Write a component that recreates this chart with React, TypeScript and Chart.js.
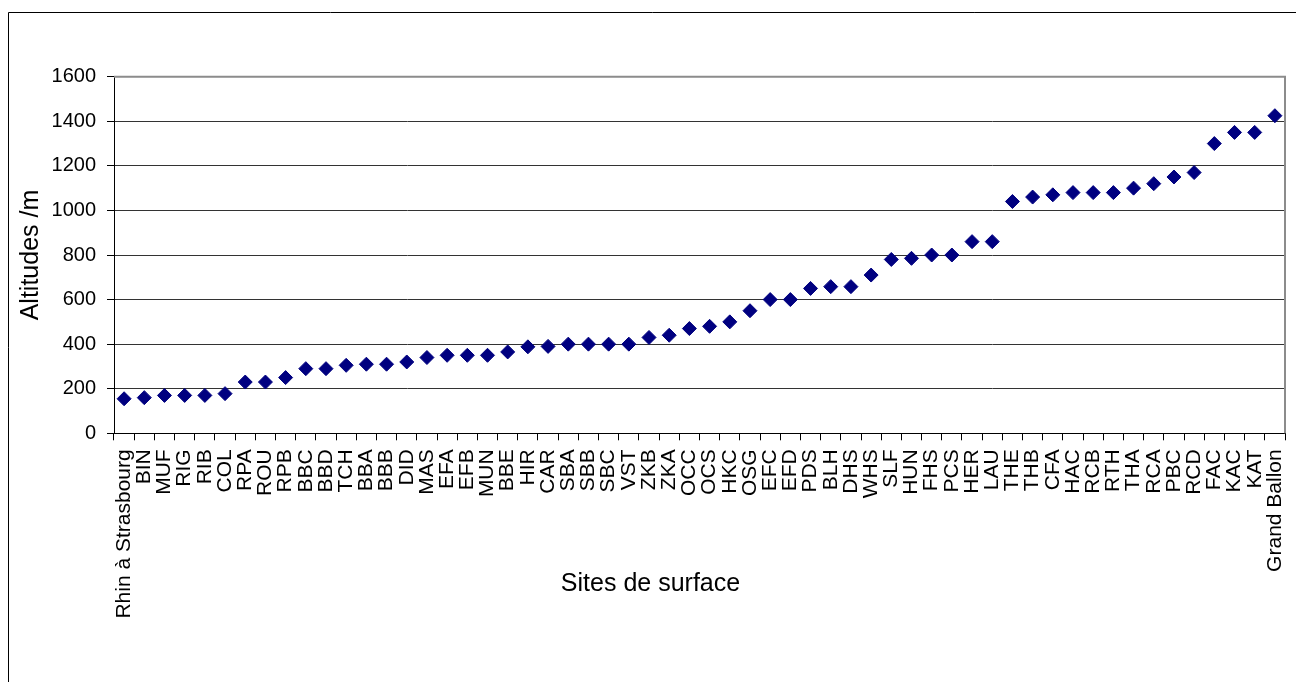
import React, { useEffect, useRef } from 'react';
import { Chart, registerables } from 'chart.js';

Chart.register(...registerables);

const sites: string[] = [
  'Rhin à Strasbourg', 'BIN', 'MUF', 'RIG', 'RIB', 'COL', 'RPA', 'ROU', 'RPB', 'BBC',
  'BBD', 'TCH', 'BBA', 'BBB', 'DID', 'MAS', 'EFA', 'EFB', 'MUN', 'BBE',
  'HIR', 'CAR', 'SBA', 'SBB', 'SBC', 'VST', 'ZKB', 'ZKA', 'OCC', 'OCS',
  'HKC', 'OSG', 'EFC', 'EFD', 'PDS', 'BLH', 'DHS', 'WHS', 'SLF', 'HUN',
  'FHS', 'PCS', 'HER', 'LAU', 'THE', 'THB', 'CFA', 'HAC', 'RCB', 'RTH',
  'THA', 'RCA', 'PBC', 'RCD', 'FAC', 'KAC', 'KAT', 'Grand Ballon',
];

const altitudes: number[] = [
  155, 160, 170, 170, 170, 178, 230, 230, 250, 290,
  290, 305, 310, 310, 320, 340, 350, 350, 350, 365,
  388, 390, 400, 400, 400, 400, 430, 440, 470, 480,
  500, 550, 600, 600, 650, 658, 658, 710, 780, 785,
  800, 800, 860, 860, 1040, 1060, 1070, 1080, 1080, 1080,
  1100, 1120, 1150, 1170, 1300, 1350, 1350, 1425,
];

const yMin = 0;
const yMax = 1600;
const yStep = 200;

const xTitle = 'Sites de surface';
const yTitle = 'Altitudes /m';

const FONT = "'Liberation Sans', Arial, sans-serif";

const framePlugin = {
  id: 'frame',
  beforeDatasetsDraw(chart: any) {
    const { ctx, chartArea: a, width, height } = chart;
    ctx.save();
    ctx.strokeStyle = '#000';
    ctx.lineWidth = 1;
    ctx.beginPath();
    ctx.moveTo(0.5, height);
    ctx.lineTo(0.5, 4.5);
    ctx.lineTo(width, 4.5);
    ctx.stroke();
    ctx.strokeStyle = '#8c8c8c';
    ctx.lineWidth = 2;
    ctx.beginPath();
    ctx.moveTo(a.left, a.top);
    ctx.lineTo(a.right, a.top);
    ctx.lineTo(a.right, a.bottom);
    ctx.stroke();
    ctx.restore();
  },
};

export default function App() {
  const ref = useRef<HTMLCanvasElement>(null);

  useEffect(() => {
    if (!ref.current) return;
    const chart = new Chart(ref.current, {
      type: 'line',
      data: {
        labels: sites,
        datasets: [
          {
            data: altitudes,
            showLine: false,
            pointStyle: 'rectRot',
            pointRadius: 7,
            pointHoverRadius: 7,
            pointBackgroundColor: '#000080',
            pointBorderColor: '#000080',
            pointBorderWidth: 1,
            clip: false as any,
          },
        ],
      },
      options: {
        animation: false,
        responsive: true,
        maintainAspectRatio: false,
        events: [],
        layout: { padding: { top: 68.7, left: 8, right: 11, bottom: 0 } },
        plugins: {
          legend: { display: false },
          tooltip: { enabled: false },
          title: {
            display: true,
            text: xTitle,
            position: 'bottom',
            color: '#000',
            font: { family: FONT, size: 25, weight: 'normal' as any },
            padding: { top: -59.3, bottom: 83 },
          },
        },
        scales: {
          x: {
            type: 'category',
            offset: true,
            afterFit: (scale: any) => {
              scale.height = 195;
              scale.paddingLeft = 0;
              scale.paddingRight = 0;
            },
            grid: {
              offset: true,
              drawOnChartArea: false,
              drawTicks: true,
              tickLength: 7,
              tickColor: '#000',
              color: '#000',
            },
            border: { color: '#000', width: 1 },
            ticks: {
              autoSkip: false,
              minRotation: 90,
              maxRotation: 90,
              padding: 9,
              color: '#000',
              font: { family: FONT, size: 21 },
            },
          },
          y: {
            min: yMin,
            max: yMax,
            afterFit: (scale: any) => {
              scale.width = 98;
              scale.paddingTop = 0;
              scale.paddingBottom = 0;
            },
            ticks: {
              stepSize: yStep,
              padding: 11,
              color: '#000',
              font: { family: FONT, size: 20 },
              callback: (v: any) => String(v),
            },
            grid: {
              color: '#333',
              lineWidth: 1,
              tickLength: 7,
              tickColor: '#000',
            },
            border: { color: '#000', width: 1 },
            title: {
              display: true,
              text: yTitle,
              color: '#000',
              font: { family: FONT, size: 25 },
              padding: { top: 0, bottom: 0 },
            },
          },
        },
      },
      plugins: [framePlugin],
    });
    return () => chart.destroy();
  }, []);

  return (
    <div style={{ position: 'absolute', left: 8, top: 8, width: 1288, height: 674 }}>
      <canvas ref={ref} />
    </div>
  );
}
